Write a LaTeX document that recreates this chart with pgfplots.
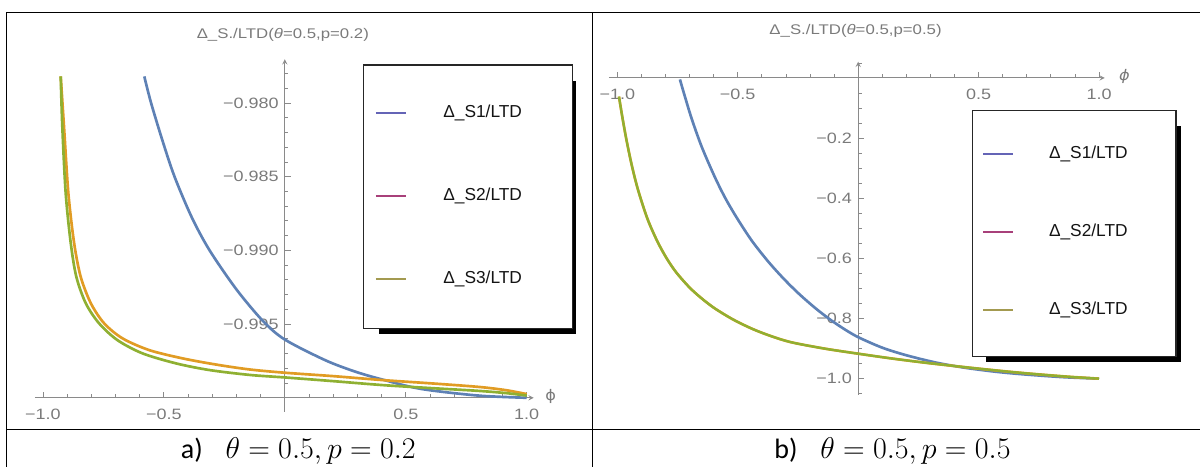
\documentclass[border=0pt]{standalone}
\usepackage{graphicx}
\usepackage{pgfplots}
\pgfplotsset{compat=1.18}
\usepackage{fontspec}
\setmainfont{Liberation Sans}
\newfontfamily\mma[FakeStretch=1.2]{Liberation Sans}
\newfontfamily\dvs[FakeStretch=1.1]{DejaVu Sans}
\newfontfamily\calib{Carlito}
\definecolor{axgray}{HTML}{8A8A8A}
\definecolor{lblgray}{HTML}{7A7A7A}
\definecolor{cblue}{HTML}{5E81B5}
\definecolor{corange}{HTML}{E19C24}
\definecolor{cgreen}{HTML}{8FB032}
\definecolor{lgA}{HTML}{6464B6}
\definecolor{lgB}{HTML}{A8407A}
\definecolor{lgC}{HTML}{A39A50}

\pgfplotstableread{
phi val
-0.581 -0.97820
-0.553 -0.98000
-0.505 -0.98260
-0.456 -0.98500
-0.385 -0.98775
-0.311 -0.99000
-0.200 -0.99265
-0.090 -0.99480
0.000 -0.99605
0.167 -0.99745
0.290 -0.99822
0.405 -0.99877
0.564 -0.99940
0.800 -0.99985
1.000 -1.00000
}\aBlue
\pgfplotstableread{
phi val
-0.9266 -0.97820
-0.913 -0.98160
-0.895 -0.98612
-0.871 -0.98952
-0.844 -0.99179
-0.802 -0.99359
-0.747 -0.99495
-0.671 -0.99597
-0.560 -0.99677
-0.422 -0.99733
-0.283 -0.99775
-0.145 -0.99808
0.000 -0.99830
0.199 -0.99853
0.405 -0.99880
0.612 -0.99903
0.800 -0.99926
0.913 -0.99948
1.000 -0.99975
}\aOrange
\pgfplotstableread{
phi val
-0.9266 -0.97820
-0.920 -0.98160
-0.906 -0.98612
-0.885 -0.98952
-0.862 -0.99179
-0.823 -0.99359
-0.768 -0.99495
-0.692 -0.99609
-0.588 -0.99699
-0.449 -0.99767
-0.311 -0.99812
-0.145 -0.99845
0.000 -0.99862
0.199 -0.99887
0.405 -0.99914
0.612 -0.99935
0.800 -0.99953
0.913 -0.99968
1.000 -0.99985
}\aGreen
\pgfplotstableread{
phi val
-0.740 -0.005
-0.720 -0.060
-0.691 -0.136
-0.650 -0.228
-0.596 -0.328
-0.550 -0.402
-0.500 -0.470
-0.440 -0.543
-0.373 -0.611
-0.310 -0.667
-0.247 -0.717
-0.180 -0.764
-0.119 -0.802
-0.060 -0.834
0.000 -0.862
0.100 -0.897
0.199 -0.922
0.320 -0.946
0.437 -0.963
0.560 -0.976
0.676 -0.985
0.850 -0.995
1.000 -1.000
}\bBlue
\pgfplotstableread{
phi val
-0.993 -0.062
-0.980 -0.126
-0.962 -0.206
-0.940 -0.290
-0.914 -0.372
-0.875 -0.468
-0.834 -0.543
-0.795 -0.600
-0.755 -0.647
-0.700 -0.697
-0.650 -0.733
-0.596 -0.766
-0.520 -0.803
-0.438 -0.835
-0.360 -0.859
-0.278 -0.879
-0.140 -0.900
0.000 -0.917
0.140 -0.933
0.278 -0.947
0.400 -0.958
0.516 -0.968
0.640 -0.978
0.753 -0.986
0.880 -0.994
1.000 -1.000
}\bOrange
\pgfplotstableread{
phi val
-0.993 -0.062
-0.980 -0.126
-0.962 -0.206
-0.940 -0.290
-0.914 -0.372
-0.875 -0.468
-0.834 -0.543
-0.795 -0.600
-0.755 -0.647
-0.700 -0.697
-0.650 -0.733
-0.596 -0.766
-0.520 -0.803
-0.438 -0.835
-0.360 -0.859
-0.278 -0.879
-0.140 -0.900
0.000 -0.917
0.140 -0.933
0.278 -0.947
0.400 -0.958
0.516 -0.968
0.640 -0.978
0.753 -0.986
0.880 -0.994
1.000 -1.000
}\bGreen

\pgfplotsset{
  mmaaxis/.style={
    scale only axis,
    axis line style={draw=axgray, line width=0.75pt, -},
    tick style={draw=axgray, line width=0.6pt},
    major tick length=4.5pt,
    minor tick length=2.6pt,
    ticklabel style={font=\mma\fontsize{11.25}{12}\selectfont, text=lblgray, inner sep=0pt},
    yticklabel style={anchor=east, xshift=-4.5pt},
    clip=false,
    every axis plot/.append style={line width=2pt, smooth, no markers},
  },
}

\begin{document}
\begin{tikzpicture}
% ---- panel a ----
\begin{axis}[mmaaxis,
  at={(26.25pt,-298.5pt)}, anchor=south west,
  width=374.25pt, height=254.1pt,
  xmin=-1.033, xmax=1.029, ymin=-1.0, ymax=-0.97703,
  axis x line=bottom, axis y line=middle,
  xtick={-1,-0.5,0.5,1}, xticklabels={−1.0,−0.5,0.5,1.0},
  minor xtick={-0.9,-0.8,-0.7,-0.6,-0.4,-0.3,-0.2,-0.1,0.1,0.2,0.3,0.4,0.6,0.7,0.8,0.9},
  ytick={-0.995,-0.99,-0.985,-0.98}, yticklabels={−0.995,−0.990,−0.985,−0.980},
  minor ytick={-0.999,-0.998,-0.997,-0.996,-0.994,-0.993,-0.992,-0.991,-0.989,-0.988,-0.987,-0.986,-0.984,-0.983,-0.982,-0.981,-0.979,-0.978,-0.977},
  xticklabel style={anchor=center, yshift=-12.5pt},
  tick align=inside,
]
\draw[axgray, line width=0.75pt] (axis cs:0,-1) -- (axis cs:0,-1.00095);
\addplot[cblue] table[x=phi,y=val] {\aBlue};
\addplot[corange] table[x=phi,y=val] {\aOrange};
\addplot[cgreen] table[x=phi,y=val] {\aGreen};
\end{axis}
% ---- panel b ----
\begin{axis}[mmaaxis,
  at={(456.9pt,-296.1pt)}, anchor=south west,
  width=372.15pt, height=249.8pt,
  xmin=-1.035, xmax=1.024, ymin=-1.053, ymax=0.054,
  axis lines=middle,
  xtick={-1,-0.5,0.5,1}, xticklabels={−1.0,−0.5,0.5,1.0},
  minor xtick={-0.9,-0.8,-0.7,-0.6,-0.4,-0.3,-0.2,-0.1,0.1,0.2,0.3,0.4,0.6,0.7,0.8,0.9},
  ytick={-1,-0.8,-0.6,-0.4,-0.2}, yticklabels={−1.0,−0.8,−0.6,−0.4,−0.2},
  minor ytick={-1.05,-0.95,-0.9,-0.85,-0.75,-0.7,-0.65,-0.55,-0.5,-0.45,-0.35,-0.3,-0.25,-0.15,-0.1,-0.05,0.05},
  xticklabel style={anchor=center, yshift=-12.5pt},
  tick align=inside,
]
\addplot[cblue] table[x=phi,y=val] {\bBlue};
\addplot[corange] table[x=phi,y=val] {\bOrange};
\addplot[cgreen, line width=1.7pt] table[x=phi,y=val] {\bGreen};
\end{axis}
% ---- frame, titles, legends, captions ----
\begin{scope}[x=0.75pt, y=-0.75pt]
\path (0,0) rectangle (1201,467);
\draw[black, line width=1pt] (6.5,12.3) -- (1201,12.3);
\draw[black, line width=1pt] (6.5,430) -- (1201,430);
\draw[black, line width=1pt] (6.5,12.3) -- (6.5,467);
\draw[black, line width=1pt] (593,12.3) -- (593,467);
% titles
\node[font=\mma\fontsize{10.5}{12}\selectfont, text=lblgray] at (283,35) {Δ\_S./LTD(\textit{θ}=0.5,p=0.2)};
\node[font=\mma\fontsize{10.5}{12}\selectfont, text=lblgray] at (856,31) {Δ\_S./LTD(\textit{θ}=0.5,p=0.5)};
% axis names
\node[font=\dvs\fontsize{11}{12}\selectfont, text=lblgray] at (551,397) {ϕ};
\node[font=\dvs\fontsize{11}{12}\selectfont\itshape, text=lblgray] at (1125,76) {ϕ};
% legend a
\fill[black] (379.3,80.7) rectangle (576.7,334);
\draw[fill=white, draw=black!85, line width=0.9pt] (364,65) rectangle (572.7,328.3);
\draw[lgA, line width=1.5pt] (376,112.7) -- (406.7,112.7);
\draw[lgB, line width=1.5pt] (376,196) -- (406.7,196);
\draw[lgC, line width=1.5pt] (376,279) -- (406.7,279);
\node[anchor=west, inner sep=0pt, font=\fontsize{13}{14}\selectfont, text=black!92] at (443.3,112.7) {Δ\_S1/LTD};
\node[anchor=west, inner sep=0pt, font=\fontsize{13}{14}\selectfont, text=black!92] at (443.3,196) {Δ\_S2/LTD};
\node[anchor=west, inner sep=0pt, font=\fontsize{13}{14}\selectfont, text=black!92] at (443.3,279) {Δ\_S3/LTD};
% legend b
\fill[black] (986.7,126) rectangle (1181.7,361.7);
\draw[fill=white, draw=black!85, line width=0.9pt] (973.3,110.7) rectangle (1176.7,356.7);
\draw[lgA, line width=1.5pt] (984,154.3) -- (1014,154.3);
\draw[lgB, line width=1.5pt] (984,232.3) -- (1014,232.3);
\draw[lgC, line width=1.5pt] (984,310) -- (1014,310);
\node[anchor=west, inner sep=0pt, font=\fontsize{13}{14}\selectfont, text=black!92] at (1049.3,154.3) {Δ\_S1/LTD};
\node[anchor=west, inner sep=0pt, font=\fontsize{13}{14}\selectfont, text=black!92] at (1049.3,232.3) {Δ\_S2/LTD};
\node[anchor=west, inner sep=0pt, font=\fontsize{13}{14}\selectfont, text=black!92] at (1049.3,310) {Δ\_S3/LTD};
% captions
\node[anchor=base, inner sep=0pt] at (298.5,459) {\fontsize{21}{24}\selectfont\calib a)\hspace{17pt}\fontsize{20.74}{24}\selectfont\scalebox{1.085}{$\theta = 0.5, p = 0.2$}};
\node[anchor=base, inner sep=0pt] at (893,459) {\fontsize{21}{24}\selectfont\calib b)\hspace{17pt}\fontsize{20.74}{24}\selectfont\scalebox{1.085}{$\theta = 0.5, p = 0.5$}};
\end{scope}
\end{tikzpicture}
\end{document}
